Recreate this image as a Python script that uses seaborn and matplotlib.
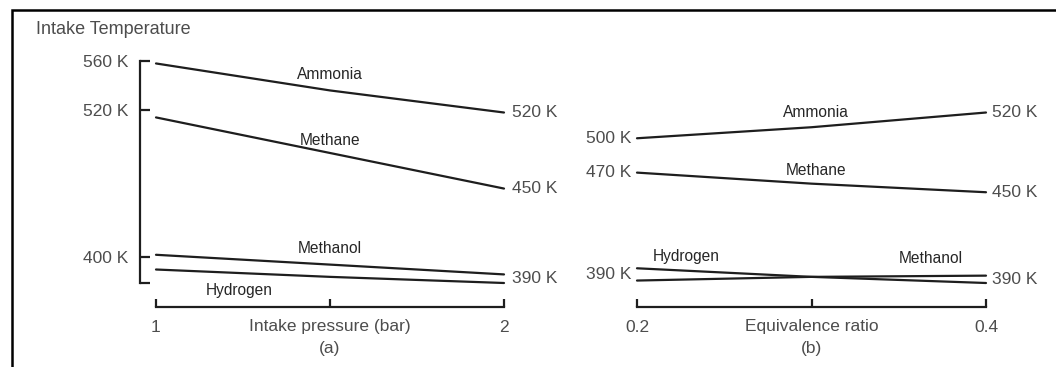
import matplotlib
matplotlib.use("Agg")
import matplotlib.pyplot as plt
import pandas as pd
import seaborn as sns
from matplotlib.patches import Rectangle

# ---------------- data ----------------
pressure = [1.0, 1.5, 2.0]                     # panel (a) x: intake pressure (bar)
a_ammonia = [558, 536, 518]
a_methane = [514, 485, 456]
a_methanol = [402, 394, 386]
a_hydrogen = [390, 384, 379]

phi = [0.2, 0.3, 0.4]                          # panel (b) x: equivalence ratio
b_ammonia = [497, 506, 518]
b_methane = [469, 460, 453]
b_hydrogen = [391, 384, 379]
b_methanol = [381, 384, 385]

fuels = ["Ammonia", "Methane", "Methanol", "Hydrogen"]

a_yticks = [379, 400, 520, 560]
a_yticklabels = ["", "400 K", "520 K", "560 K"]
a_xticks = [1.0, 1.5, 2.0]
a_xticklabels = ["1", "", "2"]
b_xticks = [0.2, 0.3, 0.4]
b_xticklabels = ["0.2", "", "0.4"]

a_end_labels = ["520 K", "450 K", "390 K"]
b_start_labels = ["500 K", "470 K", "390 K"]
b_end_labels = ["520 K", "450 K", "390 K"]

# ---------------- style ----------------
sns.set_theme(style="ticks")
plt.rcParams["font.family"] = ["Liberation Sans", "DejaVu Sans"]
LINE = "#1e1e1e"
TXT = "#4d4d4d"
LAB = "#262626"
FS_TICK = 12.5
FS_LAB = 11.2

W, H = 1056, 367
fig = plt.figure(figsize=(W / 100, H / 100), dpi=100)
fig.patch.set_facecolor("white")


def px_axes(x0, x1, y_top, y_bot):
    return fig.add_axes([x0 / W, 1 - y_bot / H, (x1 - x0) / W, (y_bot - y_top) / H])


ax_a = px_axes(156, 504, 61, 283)
ax_b = px_axes(637, 986, 61, 283)

df_a = pd.DataFrame({
    "x": pressure * 4,
    "T": a_ammonia + a_methane + a_methanol + a_hydrogen,
    "fuel": [f for f in fuels for _ in pressure],
})
df_b = pd.DataFrame({
    "x": phi * 4,
    "T": b_ammonia + b_methane + b_methanol + b_hydrogen,
    "fuel": [f for f in fuels for _ in phi],
})
pal = {f: LINE for f in fuels}

for ax, df in ((ax_a, df_a), (ax_b, df_b)):
    sns.lineplot(data=df, x="x", y="T", hue="fuel", palette=pal, estimator=None,
                 legend=False, ax=ax, lw=1.6, clip_on=False, sort=False)
    ax.set_ylim(379, 560)
    ax.spines["top"].set_visible(False)
    ax.spines["right"].set_visible(False)
    ax.spines["bottom"].set_position(("outward", 24 * 0.72))
    ax.spines["bottom"].set_linewidth(1.6)
    ax.spines["bottom"].set_color(LINE)
    ax.tick_params(axis="x", direction="in", length=6, width=1.6, color=LINE,
                   labelsize=FS_TICK, labelcolor=TXT, pad=9.5)
    ax.set_facecolor("none")

ax_a.set_xlim(1, 2)
ax_b.set_xlim(0.2, 0.4)
ax_a.set_xticks(a_xticks, a_xticklabels)
ax_b.set_xticks(b_xticks, b_xticklabels)

# left bracket of panel (a)
ax_a.spines["left"].set_position(("outward", 16 * 0.72))
ax_a.spines["left"].set_linewidth(1.6)
ax_a.spines["left"].set_color(LINE)
ax_a.set_yticks(a_yticks, a_yticklabels)
ax_a.tick_params(axis="y", direction="in", length=7, width=1.6, color=LINE,
                 labelsize=FS_TICK, labelcolor=TXT, pad=8.5)
ax_a.set_ylabel("")

ax_b.spines["left"].set_visible(False)
ax_b.set_yticks([])
ax_b.set_ylabel("")

ax_a.set_xlabel("Intake pressure (bar)\n(a)", fontsize=FS_TICK, color=TXT,
                labelpad=-12, linespacing=1.65)
ax_b.set_xlabel("Equivalence ratio\n(b)", fontsize=FS_TICK, color=TXT,
                labelpad=-12, linespacing=1.65)

# end labels
a_end_vals = [a_ammonia[-1], a_methane[-1], (a_methanol[-1] + a_hydrogen[-1]) / 2]
for lab, v in zip(a_end_labels, a_end_vals):
    ax_a.annotate(lab, xy=(pressure[-1], v), xytext=(8 * 0.72, 0),
                  textcoords="offset points", ha="left", va="center",
                  fontsize=FS_TICK, color=TXT, annotation_clip=False)

b_start_vals = [b_ammonia[0], b_methane[0], (b_hydrogen[0] + b_methanol[0]) / 2]
for lab, v in zip(b_start_labels, b_start_vals):
    ax_b.annotate(lab, xy=(phi[0], v), xytext=(-6 * 0.72, 0),
                  textcoords="offset points", ha="right", va="center",
                  fontsize=FS_TICK, color=TXT, annotation_clip=False)

b_end_vals = [b_ammonia[-1], b_methane[-1], (b_hydrogen[-1] + b_methanol[-1]) / 2]
for lab, v in zip(b_end_labels, b_end_vals):
    ax_b.annotate(lab, xy=(phi[-1], v), xytext=(6 * 0.72, 0),
                  textcoords="offset points", ha="left", va="center",
                  fontsize=FS_TICK, color=TXT, annotation_clip=False)

# series names
a_names = {"Ammonia": (1.5, 549), "Methane": (1.5, 495),
           "Methanol": (1.5, 407), "Hydrogen": (1.24, 373)}
b_names = {"Ammonia": (0.3026, 518), "Methane": (0.3026, 471),
           "Hydrogen": (0.228, 401), "Methanol": (0.3685, 399)}
for ax, names in ((ax_a, a_names), (ax_b, b_names)):
    for name, (x, y) in names.items():
        ax.text(x, y, name, ha="center", va="center", fontsize=FS_LAB,
                color=LAB, clip_on=False)

fig.text(36 / W, 1 - 30 / H, "Intake Temperature", ha="left", va="center",
         fontsize=13, color=TXT)

# outer frame (clipped at right/bottom like the reference)
fig.add_artist(Rectangle((12 / W, -0.1), 1.2, (1 - 10.5 / H) + 0.1,
                         transform=fig.transFigure, fill=False, lw=1.8,
                         ec="black"))

fig.savefig("out.png", dpi=100)
